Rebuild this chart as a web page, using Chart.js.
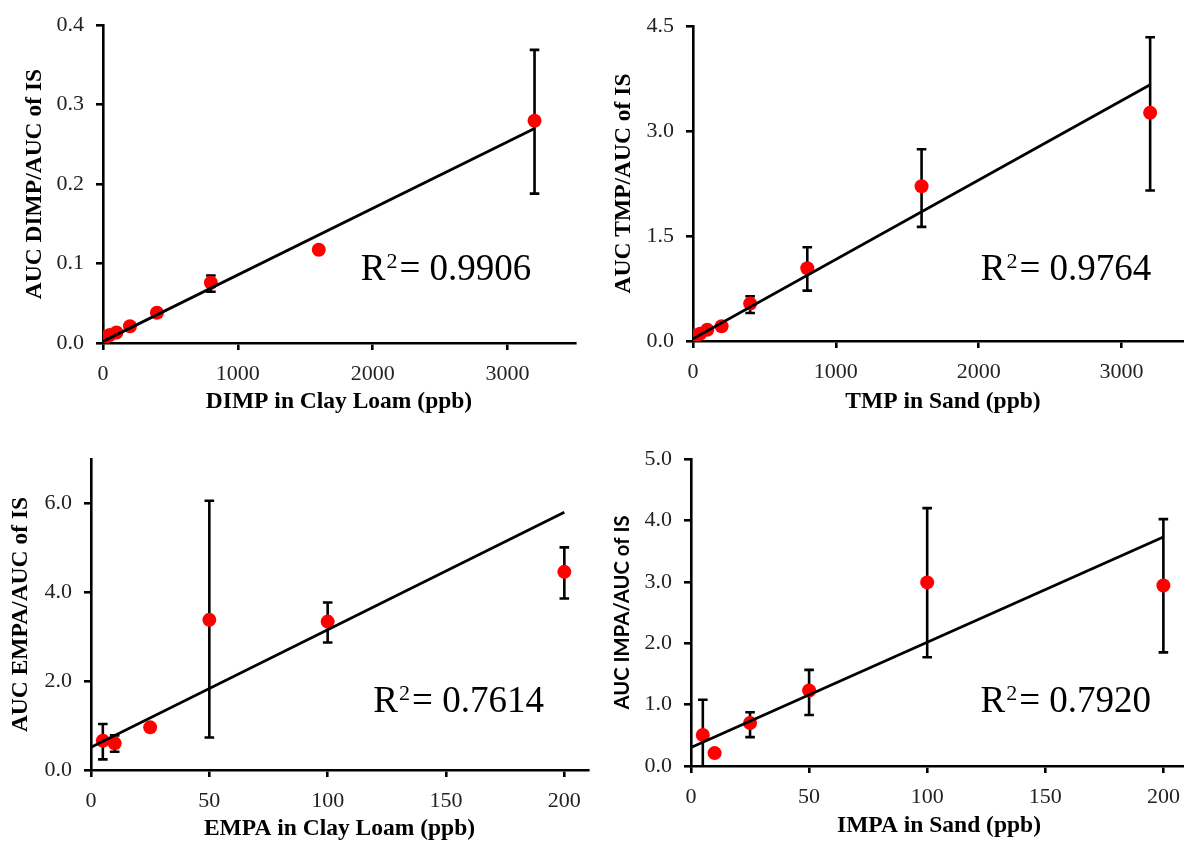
<!DOCTYPE html>
<html><head><meta charset="utf-8">
<script src="https://cdn.jsdelivr.net/npm/chart.js@4"></script>
<style>
html,body{margin:0;padding:0;background:#fff;overflow:hidden;width:1184px;height:843px;position:relative;}
canvas{position:absolute;display:block;}
</style></head><body>
<canvas id="c1" width="600" height="420" style="left:0;top:0"></canvas>
<canvas id="c2" width="600" height="420" style="left:600px;top:0"></canvas>
<canvas id="c3" width="600" height="423" style="left:0;top:420px"></canvas>
<canvas id="c4" width="600" height="423" style="left:600px;top:420px"></canvas>
<script>
// ---- DIMP in Clay Loam ----
const dimpConc = [25, 50, 100, 200, 400, 800, 1600, 3200];
const dimpRatio = [0.008, 0.010, 0.0133, 0.021, 0.038, 0.0758, 0.1174, 0.2798];
const dimpErrLow = [0.006, 0.008, 0.011, 0.019, 0.035, 0.0645, 0.116, 0.188];
const dimpErrHigh = [0.010, 0.012, 0.016, 0.023, 0.041, 0.085, 0.119, 0.369];
const dimpFitX = [0, 3200];
const dimpFitY = [0.002, 0.270];
const dimpR2 = '0.9906';
const dimpXTicks = [0, 1000, 2000, 3000];
const dimpYTicks = [0, 0.1, 0.2, 0.3, 0.4];

// ---- TMP in Sand ----
const tmpConc = [25, 50, 100, 200, 400, 800, 1600, 3200];
const tmpRatio = [0.08, 0.105, 0.16, 0.21, 0.534, 1.04, 2.21, 3.26];
const tmpErrLow = [0.06, 0.08, 0.12, 0.17, 0.40, 0.72, 1.63, 2.15];
const tmpErrHigh = [0.10, 0.13, 0.20, 0.25, 0.64, 1.34, 2.74, 4.34];
const tmpFitX = [0, 3200];
const tmpFitY = [0.03, 3.66];
const tmpR2 = '0.9764';
const tmpXTicks = [0, 1000, 2000, 3000];
const tmpYTicks = [0, 1.5, 3.0, 4.5];

// ---- EMPA in Clay Loam ----
const empaConc = [5, 10, 25, 50, 100, 200];
const empaRatio = [0.66, 0.60, 0.96, 3.38, 3.34, 4.46];
const empaErrLow = [0.24, 0.41, 0.93, 0.73, 2.87, 3.86];
const empaErrHigh = [1.035, 0.78, 1.00, 6.06, 3.77, 5.01];
const empaFitX = [0, 200];
const empaFitY = [0.51, 5.80];
const empaR2 = '0.7614';
const empaXTicks = [0, 50, 100, 150, 200];
const empaYTicks = [0, 2, 4, 6];

// ---- IMPA in Sand ----
const impaConc = [5, 10, 25, 50, 100, 200];
const impaRatio = [0.505, 0.21, 0.70, 1.23, 2.99, 2.94];
const impaErrLow = [-0.08, 0.17, 0.47, 0.83, 1.77, 1.85];
const impaErrHigh = [1.08, 0.25, 0.875, 1.565, 4.20, 4.02];
const impaFitX = [0, 200];
const impaFitY = [0.30, 3.73];
const impaR2 = '0.7920';
const impaXTicks = [0, 50, 100, 150, 200];
const impaYTicks = [0, 1, 2, 3, 4, 5];

const SERIF = "'Liberation Serif', 'Times New Roman', serif";

const errorBarPlugin = {
  id: 'errbars',
  beforeDatasetsDraw(chart, args, opts) {
    const {ctx, chartArea: a, scales: {x, y}} = chart;
    ctx.save();
    ctx.beginPath(); ctx.rect(a.left, a.top, a.right - a.left, a.bottom - a.top); ctx.clip();
    ctx.strokeStyle = '#000'; ctx.lineWidth = 2.6;
    opts.xs.forEach((v, i) => {
      const px = x.getPixelForValue(v);
      const p1 = y.getPixelForValue(opts.lo[i]);
      const p2 = y.getPixelForValue(opts.hi[i]);
      ctx.beginPath();
      ctx.moveTo(px, p1); ctx.lineTo(px, p2);
      ctx.moveTo(px - 4.8, p1); ctx.lineTo(px + 4.8, p1);
      ctx.moveTo(px - 4.8, p2); ctx.lineTo(px + 4.8, p2);
      ctx.stroke();
    });
    ctx.restore();
  }
};

const r2Plugin = {
  id: 'r2label',
  afterDraw(chart, args, opts) {
    const {ctx, scales: {x, y}} = chart;
    const px = x.getPixelForValue(opts.at[0]);
    const py = y.getPixelForValue(opts.at[1]);
    ctx.save();
    ctx.fillStyle = '#000';
    ctx.textBaseline = 'alphabetic';
    ctx.font = '37px ' + SERIF;
    ctx.fillText('R', px, py);
    let w = ctx.measureText('R').width;
    ctx.font = '22px ' + SERIF;
    ctx.fillText('2', px + w + 1, py - 12);
    w += ctx.measureText('2').width + 1;
    ctx.font = '37px ' + SERIF;
    ctx.fillText('= ' + opts.value, px + w + 2, py);
    ctx.restore();
  }
};

function makePanel(id, p) {
  const pts = p.xs.map((v, i) => ({x: v, y: p.ys[i]}));
  const fit = p.fx.map((v, i) => ({x: v, y: p.fy[i]}));
  new Chart(document.getElementById(id), {
    type: 'scatter',
    data: {
      datasets: [
        {type: 'line', data: fit, borderColor: '#000', borderWidth: 2.8, pointRadius: 0, fill: false, showLine: true},
        {data: pts, backgroundColor: '#ff0000', borderWidth: 0, pointRadius: 7}
      ]
    },
    options: {
      responsive: false,
      animation: false,
      events: [],
      layout: {padding: p.pad},
      plugins: {
        legend: {display: false},
        tooltip: {enabled: false},
        errbars: {xs: p.xs, lo: p.lo, hi: p.hi},
        r2label: {at: p.r2at, value: p.r2}
      },
      scales: {
        x: {
          type: 'linear', min: 0, max: p.xmax,
          afterBuildTicks: s => { s.ticks = p.xticks.map(v => ({value: v})); },
          afterFit: s => { s.height = p.xh; },
          border: {display: true, color: '#000', width: 2.6},
          grid: {display: true, drawOnChartArea: false, drawTicks: true, tickLength: 7, color: '#000', lineWidth: 2.6},
          ticks: {padding: 11, color: '#222', font: {family: SERIF, size: 22}, maxRotation: 0, autoSkip: false, callback: v => String(v)},
          title: {display: true, text: p.xtitle, color: '#000', padding: {top: 0, bottom: p.xtpad}, font: {family: SERIF, size: 23.5, weight: 'bold'}}
        },
        y: {
          type: 'linear', min: 0, max: p.ymax,
          afterBuildTicks: s => { s.ticks = p.yticks.map(v => ({value: v})); },
          afterFit: s => { s.width = p.yw; },
          border: {display: true, color: '#000', width: 2.6},
          grid: {display: true, drawOnChartArea: false, drawTicks: true, tickLength: 7, color: '#000', lineWidth: 2.6},
          ticks: {padding: 12, color: '#222', font: {family: SERIF, size: 22}, autoSkip: false, callback: v => Number(v).toFixed(1)},
          title: {display: true, text: p.ytitle, color: '#000', padding: {top: p.ytpad, bottom: 0}, font: p.yfont}
        }
      }
    },
    plugins: [errorBarPlugin, r2Plugin]
  });
}

makePanel('c1', {
  xs: dimpConc, ys: dimpRatio, lo: dimpErrLow, hi: dimpErrHigh, fx: dimpFitX, fy: dimpFitY,
  r2: dimpR2, r2at: [1911, 0.0795], xticks: dimpXTicks, yticks: dimpYTicks,
  xmax: 3500, ymax: 0.4,
  xtitle: 'DIMP in Clay Loam (ppb)', ytitle: 'AUC DIMP/AUC of IS',
  yfont: {family: SERIF, size: 23.5, weight: 'bold'},
  pad: {left: 0, top: 22, right: 25, bottom: 0}, yw: 103, xh: 77, ytpad: 21, xtpad: 4
});
makePanel('c2', {
  xs: tmpConc, ys: tmpRatio, lo: tmpErrLow, hi: tmpErrHigh, fx: tmpFitX, fy: tmpFitY,
  r2: tmpR2, r2at: [2014, 0.87], xticks: tmpXTicks, yticks: tmpYTicks,
  xmax: 3500, ymax: 4.5,
  xtitle: 'TMP in Sand (ppb)', ytitle: 'AUC TMP/AUC of IS',
  yfont: {family: SERIF, size: 23.5, weight: 'bold'},
  pad: {left: 0, top: 26, right: 7, bottom: 0}, yw: 93, xh: 79, ytpad: 10, xtpad: 4
});
makePanel('c3', {
  xs: empaConc, ys: empaRatio, lo: empaErrLow, hi: empaErrHigh, fx: empaFitX, fy: empaFitY,
  r2: empaR2, r2at: [119.3, 1.31], xticks: empaXTicks, yticks: empaYTicks,
  xmax: 210, ymax: 7,
  xtitle: 'EMPA in Clay Loam (ppb)', ytitle: 'AUC EMPA/AUC of IS',
  yfont: {family: SERIF, size: 23.5, weight: 'bold'},
  pad: {left: 0, top: 39, right: 12, bottom: 0}, yw: 91, xh: 73, ytpad: 7, xtpad: 0
});
makePanel('c4', {
  xs: impaConc, ys: impaRatio, lo: impaErrLow, hi: impaErrHigh, fx: impaFitX, fy: impaFitY,
  r2: impaR2, r2at: [122.6, 0.885], xticks: impaXTicks, yticks: impaYTicks,
  xmax: 210, ymax: 5,
  xtitle: 'IMPA in Sand (ppb)', ytitle: 'AUC IMPA/AUC of IS',
  yfont: {family: "Lato, 'Open Sans', sans-serif", size: 20.3, weight: 'bold'},
  pad: {left: 0, top: 39, right: 13, bottom: 0}, yw: 91, xh: 77, ytpad: 10, xtpad: 3
});
</script>
</body></html>
